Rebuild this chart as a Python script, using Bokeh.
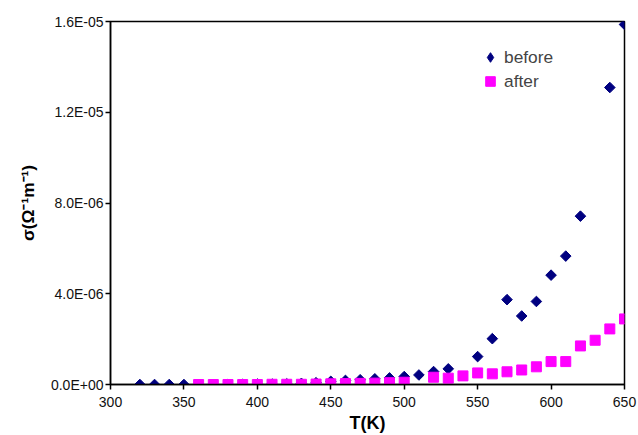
import math
from bokeh.plotting import figure
from bokeh.models import FixedTicker, CustomJSTickFormatter, Legend, LegendItem, Range1d
from bokeh.embed import file_html
from bokeh.resources import INLINE

# Data
T_before = [320, 330, 340, 350, 360, 370, 380, 390, 400, 410, 420, 430, 440, 450, 460, 470,
            480, 490, 500, 510, 520, 530, 550, 560, 570, 580, 590, 600, 610, 620, 640, 650]
sigma_before = [0.0, 0.0, 0.0, 0.0, 0.0, 0.0, 0.01e-6, 0.01e-6, 0.02e-6, 0.02e-6, 0.03e-6,
                0.05e-6, 0.08e-6, 0.14e-6, 0.18e-6, 0.21e-6, 0.25e-6, 0.29e-6, 0.35e-6,
                0.42e-6, 0.57e-6, 0.69e-6, 1.23e-6, 2.02e-6, 3.74e-6, 3.02e-6, 3.66e-6,
                4.82e-6, 5.66e-6, 7.42e-6, 13.09e-6, 15.87e-6]

T_after = [360, 370, 380, 390, 400, 410, 420, 430, 440, 450, 460, 470, 480, 490, 500,
           520, 530, 540, 550, 560, 570, 580, 590, 600, 610, 620, 630, 640, 650]
sigma_after = [0.0, 0.0, 0.0, 0.0, 0.0, 0.01e-6, 0.01e-6, 0.01e-6, 0.02e-6, 0.03e-6,
               0.04e-6, 0.05e-6, 0.06e-6, 0.08e-6, 0.10e-6, 0.32e-6, 0.28e-6, 0.38e-6,
               0.51e-6, 0.47e-6, 0.56e-6, 0.64e-6, 0.78e-6, 1.01e-6, 1.01e-6, 1.70e-6,
               1.95e-6, 2.45e-6, 2.89e-6]

x_ticks = [300, 350, 400, 450, 500, 550, 600, 650]
y_ticks = [0.0, 4e-6, 8e-6, 1.2e-5, 1.6e-5]

FONT = "Liberation Sans"
NAVY = "#000080"
MAGENTA = "#FF00FF"

p = figure(width=638, height=435, output_backend="svg", toolbar_location=None,
           x_range=Range1d(300, 650), y_range=Range1d(0, 1.6e-5))
p.min_border_left = 110
p.min_border_right = 14
p.min_border_top = 21
p.min_border_bottom = 50
p.background_fill_color = "white"
p.border_fill_color = "white"
p.outline_line_color = "black"
p.outline_line_width = 1.5
p.xgrid.visible = False
p.ygrid.visible = False

r1 = p.scatter(T_before, sigma_before, marker="square", angle=math.pi / 4, size=7.5,
               color=NAVY)
r2 = p.scatter(T_after, sigma_after, marker="square", size=10, color=MAGENTA)
# legend-only diamond glyph (NaN position, never drawn in the plot)
r1_leg = p.scatter([float("nan")], [float("nan")], marker="diamond", size=10, color=NAVY)

p.xaxis.ticker = FixedTicker(ticks=x_ticks)
p.yaxis.ticker = FixedTicker(ticks=y_ticks)
p.yaxis.formatter = CustomJSTickFormatter(code="""
if (tick == 0) return "0.0E+00";
var e = Math.floor(Math.log10(Math.abs(tick)) + 1e-9);
var m = tick / Math.pow(10, e);
var a = Math.abs(e);
return m.toFixed(1) + "E" + (e < 0 ? "-" : "+") + (a < 10 ? "0" : "") + a;
""")

for ax in (p.xaxis[0], p.yaxis[0]):
    ax.axis_line_color = "black"
    ax.axis_line_width = 1.5
    ax.major_tick_line_color = "black"
    ax.major_tick_line_width = 1.5
    ax.major_tick_in = 0
    ax.major_tick_out = 5
    ax.minor_tick_line_color = None
    ax.major_label_text_font = FONT
    ax.major_label_text_font_size = "10.5pt"
    ax.major_label_text_color = "#111111"
    ax.axis_label_text_font = FONT
    ax.axis_label_text_font_style = "bold"
    ax.axis_label_text_color = "black"

p.xaxis.major_label_standoff = 7
p.yaxis.major_label_standoff = 2
p.xaxis.axis_label = "T(K)"
p.xaxis.axis_label_text_font_size = "13.5pt"
p.xaxis.axis_label_standoff = 3
p.yaxis.axis_label = "σ(Ω⁻¹m⁻¹)"
p.yaxis.axis_label_text_font_size = "13pt"
p.yaxis.axis_label_standoff = 10

legend = Legend(items=[LegendItem(label="before", renderers=[r1_leg]),
                       LegendItem(label="after", renderers=[r2])],
                location=(368, 291))
legend.border_line_color = None
legend.background_fill_alpha = 0
legend.label_text_font = FONT
legend.label_text_font_size = "13pt"
legend.glyph_width = 24
legend.glyph_height = 24
legend.label_standoff = 2
legend.spacing = -1
p.add_layout(legend, "center")

open("out.html", "w").write(file_html(p, INLINE))
